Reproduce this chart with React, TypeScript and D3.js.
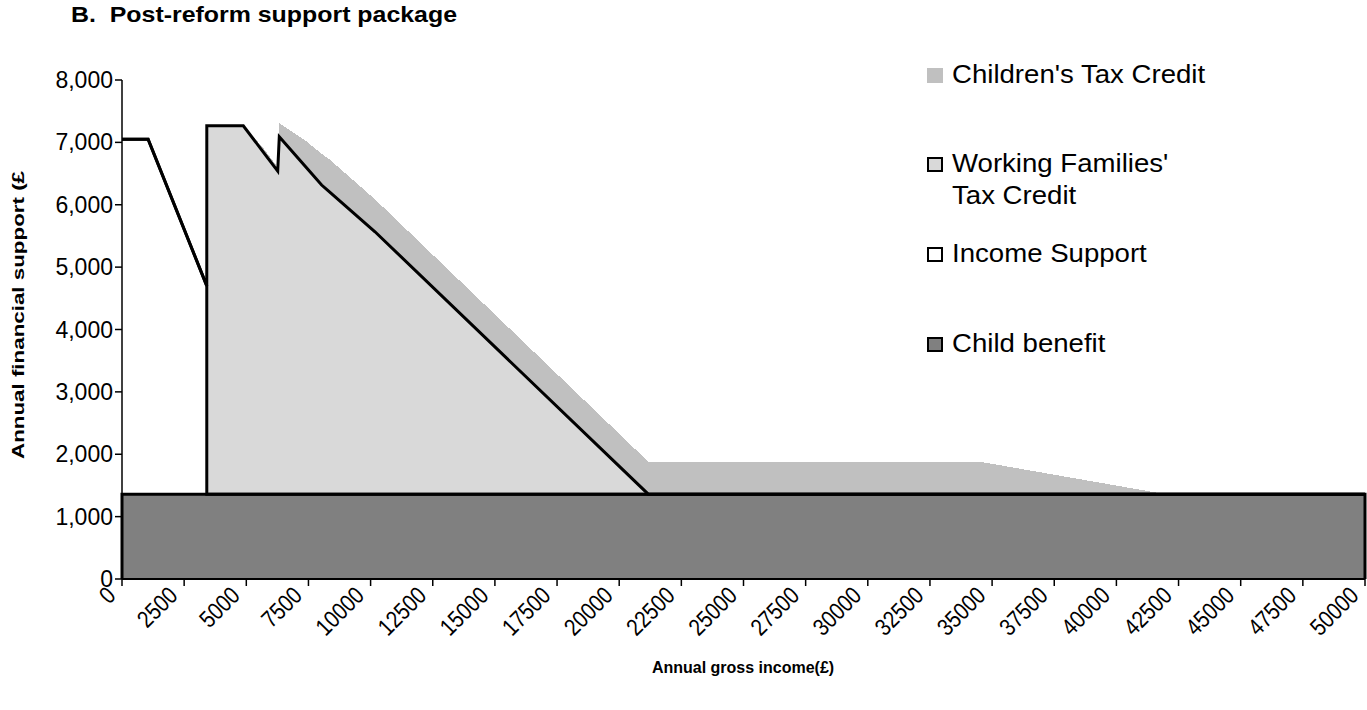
import React from "react";
import * as d3 from "d3";

// Income grid (£ per year) shared by every series
const incomes = [0, 1050, 3410, 3411, 4880, 5630, 6263, 6327, 7360, 8030, 8300, 10177, 21170, 34510, 41980, 50000];

// Annual amounts (£) of each support component at those incomes
const childBenefit = [1360, 1360, 1360, 1360, 1360, 1360, 1360, 1360, 1360, 1360, 1360, 1360, 1360, 1360, 1360, 1360];
const incomeSupport = [5690, 5690, 3340, 0, 0, 0, 0, 0, 0, 0, 0, 0, 0, 0, 0, 0];
const workingFamiliesTC = [0, 0, 0, 5905, 5905, 5512, 5180, 5730, 5260, 4956, 4862, 4207, 0, 0, 0, 0];
const childrensTC = [0, 0, 0, 0, 0, 65, 60, 215, 416, 500, 520, 520, 520, 520, 0, 0];

const yTicks = [0, 1000, 2000, 3000, 4000, 5000, 6000, 7000, 8000];
const xTicks = [0, 2500, 5000, 7500, 10000, 12500, 15000, 17500, 20000, 22500, 25000, 27500, 30000, 32500, 35000, 37500, 40000, 42500, 45000, 47500, 50000];

const seriesKeys = ["cb", "is", "wftc", "ctc"];

const legendItems = [
  { lines: ["Children's Tax Credit"], fill: "#c0c0c0", stroke: "none" },
  { lines: ["Working Families'", "Tax Credit"], fill: "#d9d9d9", stroke: "#000" },
  { lines: ["Income Support"], fill: "#ffffff", stroke: "#000" },
  { lines: ["Child benefit"], fill: "#808080", stroke: "#000" },
];

const FONT = "'Liberation Sans', Arial, Helvetica, sans-serif";

export default function App() {
  const W = 1367;
  const H = 710;
  const left = 122;
  const right = 1365;
  const top = 80;
  const bottom = 579;

  const x = d3.scaleLinear().domain([0, 50000]).range([left, right]);
  const y = d3.scaleLinear().domain([0, 8000]).range([bottom, top]);

  const rows = incomes.map((inc, i) => ({
    inc,
    cb: childBenefit[i],
    is: incomeSupport[i],
    wftc: workingFamiliesTC[i],
    ctc: childrensTC[i],
  }));

  const stacked = d3.stack<any>().keys(seriesKeys)(rows);

  const area = d3
    .area<any>()
    .x((d) => x(d.data.inc))
    .y0((d) => y(d[0]))
    .y1((d) => y(d[1]));

  const topLine = d3
    .line<any>()
    .x((d) => x(d.data.inc))
    .y((d) => y(d[1]));

  const fills: Record<string, string> = {
    cb: "#808080",
    is: "#ffffff",
    wftc: "#d9d9d9",
    ctc: "#c0c0c0",
  };

  const cbLayer = stacked[0];
  const cbOutline =
    `M${x(0)},${y(0)}` +
    `L${x(0)},${y(cbLayer[0][1])}` +
    cbLayer.map((d: any) => `L${x(d.data.inc)},${y(d[1])}`).join("") +
    `L${x(50000)},${y(0)}`;

  const legendX = 927;
  const legendRows = [83, 172, 262, 352];

  return (
    <svg
      width={W}
      height={H}
      style={{ position: "absolute", left: 0, top: 0, background: "#fff" }}
      fontFamily={FONT}
    >
      <text x={71} y={22} fontSize={22} fontWeight="bold" textLength={386} lengthAdjust="spacingAndGlyphs" style={{ whiteSpace: "pre" }}>
        {"B.  Post-reform support package"}
      </text>

      {/* stacked areas */}
      {stacked.map((layer: any) => (
        <path
          key={layer.key}
          d={area(layer) || ""}
          fill={fills[layer.key]}
          stroke="none"
          shapeRendering={layer.key === "ctc" ? "crispEdges" : undefined}
        />
      ))}

      {/* outlines of the bordered series */}
      <path d={topLine(stacked[1]) || ""} fill="none" stroke="#000" strokeWidth={3} strokeLinejoin="miter" />
      <path d={topLine(stacked[2]) || ""} fill="none" stroke="#000" strokeWidth={3} strokeLinejoin="miter" />
      <path d={cbOutline} fill="none" stroke="#000" strokeWidth={3} />

      {/* y axis */}
      <line x1={left} x2={left} y1={top} y2={bottom} stroke="#000" strokeWidth={1.5} />
      {yTicks.map((t) => (
        <g key={t}>
          <line x1={left - 7} x2={left} y1={y(t)} y2={y(t)} stroke="#000" strokeWidth={1.5} />
          <text x={113} y={y(t) + 8} fontSize={23} textAnchor="end">
            {d3.format(",")(t)}
          </text>
        </g>
      ))}
      <text
        transform={`translate(24,${(170 + 460) / 2}) rotate(-90)`}
        fontSize={17}
        fontWeight="bold"
        textAnchor="middle"
        textLength={288}
        lengthAdjust="spacingAndGlyphs"
      >
        Annual financial support (£
      </text>

      {/* x axis */}
      <line x1={left} x2={right} y1={bottom} y2={bottom} stroke="#000" strokeWidth={2} />
      {xTicks.map((t) => (
        <g key={t}>
          <line x1={x(t)} x2={x(t)} y1={bottom} y2={bottom + 7} stroke="#000" strokeWidth={1.5} />
          <text
            transform={`translate(${x(t) - 5},${bottom + 18}) rotate(-45) scale(0.85,1)`}
            fontSize={24}
            textAnchor="end"
          >
            {t}
          </text>
        </g>
      ))}
      <text x={743} y={673} fontSize={16} fontWeight="bold" textAnchor="middle">
        Annual gross income(£)
      </text>

      {/* legend */}
      {legendItems.map((item, i) => (
        <g key={i}>
          <rect
            x={legendX + (item.stroke === "none" ? 0 : 1)}
            y={legendRows[i] - 15 + (item.stroke === "none" ? 0 : 1)}
            width={item.stroke === "none" ? 16 : 14}
            height={item.stroke === "none" ? 15 : 13}
            fill={item.fill}
            stroke={item.stroke}
            strokeWidth={item.stroke === "none" ? 0 : 2}
          />
          {item.lines.map((ln, j) => (
            <text
              key={j}
              transform={`translate(952,${legendRows[i] + j * 32}) scale(1.078,1)`}
              fontSize={25.6}
            >
              {ln}
            </text>
          ))}
        </g>
      ))}
    </svg>
  );
}
